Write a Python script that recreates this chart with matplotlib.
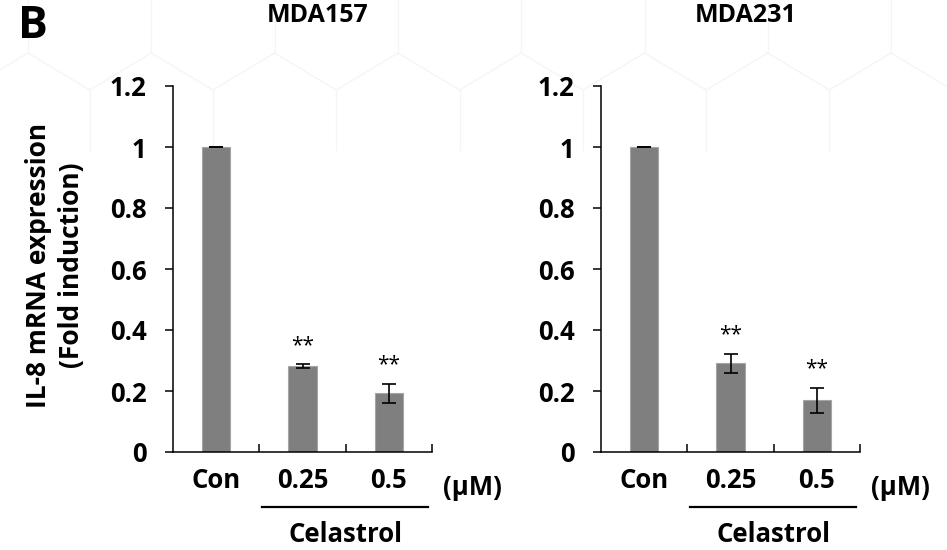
import matplotlib
matplotlib.use("Agg")
import matplotlib.pyplot as plt
from matplotlib.lines import Line2D

plt.rcParams['font.family'] = ['Open Sans', 'DejaVu Sans']

# data
groups = ["Con", "0.25", "0.5"]
cells = ["MDA157", "MDA231"]
means = {
    "MDA157": [1.0, 0.282, 0.192],
    "MDA231": [1.0, 0.291, 0.170],
}
errs = {
    "MDA157": [0.0, 0.006, 0.032],
    "MDA231": [0.0, 0.031, 0.041],
}
stars = ["", "**", "**"]
yticks = [0, 0.2, 0.4, 0.6, 0.8, 1, 1.2]
ytick_labels = ["0", "0.2", "0.4", "0.6", "0.8", "1", "1.2"]

W, H = 947, 550
fig = plt.figure(figsize=(W / 100, H / 100), dpi=100)


def px(x, y):
    # pixel (from top left) -> figure fraction
    return x / W, 1 - y / H


# faint hexagon pattern in the background
period = 123.3
for k in range(-1, 9):
    x0 = 28 + k * period
    segs = [
        [(x0, 0), (x0, 53)],
        [(x0, 53), (x0 + period / 2, 90)],
        [(x0 + period / 2, 90), (x0 + period, 53)],
        [(x0 + period / 2, 90), (x0 + period / 2, 150)],
    ]
    for (a, b) in segs:
        p1, p2 = px(*a), px(*b)
        fig.add_artist(Line2D([p1[0], p2[0]], [p1[1], p2[1]],
                              color="#f5f5f5", lw=1.0, zorder=0))

fig.text(18 / W, 1 - 27 / H, "B", fontsize=32, fontweight="bold",
         va="center", ha="left")

# y label placed by hand
lx, ly = px(55, 265)
fig.text(lx, ly, "IL-8 mRNA expression\n(Fold induction)", rotation=90,
         ha="center", va="center", fontsize=19, fontweight="bold",
         linespacing=1.3, multialignment="center")

lefts = [173, 601]
for i, cell in enumerate(cells):
    ax = fig.add_axes([lefts[i] / W, 1 - 452 / H, 259 / W, 366 / H])
    ax.patch.set_alpha(0)
    x = range(len(groups))
    ax.bar(x, means[cell], width=0.33, color="#7f7f7f",
           edgecolor="#a5a5a5", linewidth=0.8, zorder=2)
    ax.errorbar(x, means[cell], yerr=errs[cell], fmt="none", ecolor="black",
                elinewidth=1.2, capsize=4.7, capthick=1.2, zorder=3)
    for j, s in enumerate(stars):
        if s:
            ax.annotate(s, (j, means[cell][j] + errs[cell][j]),
                        xytext=(0, 6), textcoords="offset points",
                        ha="center", va="bottom", fontsize=15)

    ax.set_xlim(-0.5, 2.5)
    ax.set_ylim(0, 1.2)
    ax.set_yticks(yticks, ytick_labels)
    ax.set_xticks(list(x), groups)
    ax.set_xticks([0.5, 1.5, 2.5], minor=True)
    ax.tick_params(axis="y", direction="out", length=6, width=1.1,
                   pad=13, labelsize=18.5)
    ax.tick_params(axis="x", which="major", length=0, pad=11, labelsize=18.5)
    ax.tick_params(axis="x", which="minor", direction="in", length=5.5,
                   width=1.1)
    for lab in ax.get_xticklabels() + ax.get_yticklabels():
        lab.set_fontweight("bold")
    ax.spines[["top", "right"]].set_visible(False)
    for sp in ("left", "bottom"):
        ax.spines[sp].set_linewidth(1.1)

    ax.text(0.56, 1.0 + 70 / 366, cell, transform=ax.transAxes,
            ha="center", va="center", fontsize=18, fontweight="bold")

    trans = ax.get_xaxis_transform()
    ax.text(2.97, -0.096, "(\u03bcM)", transform=trans, ha="center",
            va="center", fontsize=18.5, fontweight="bold")
    ax.add_line(Line2D([0.53, 2.45], [-0.150, -0.150], transform=trans,
                       color="black", lw=1.6, clip_on=False))
    ax.text(1.5, -0.226, "Celastrol", transform=trans, ha="center",
            va="center", fontsize=18.5, fontweight="bold")

fig.savefig("out.png", dpi=100)
